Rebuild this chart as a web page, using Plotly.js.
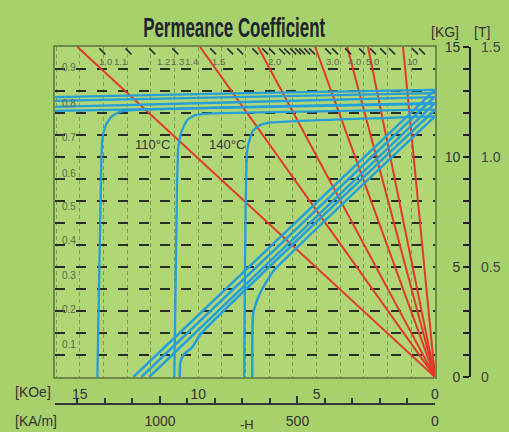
<!DOCTYPE html>
<html>
<head>
<meta charset="utf-8">
<script src="https://cdn.plot.ly/plotly-3.0.1.min.js"></script>
<style>html,body{margin:0;padding:0;background:#a7d16b;}</style>
</head>
<body>
<div id="chart" style="width:509px;height:432px;"></div>
<script>
// ---- permeance (load) lines: H (KOe) where each line meets the top edge B = 15 KG
const permeanceValues = [1.0, 1.5, 2.0, 3.0, 4.0, 5.0, 10];
const permeanceTopH = [15.1, 9.92, 7.47, 5.06, 3.71, 2.83, 1.35];
const permeanceTopB = 15;

// ---- normal (B) demagnetization curves, H in KOe, B in KG
const bCurveH = [
  [0, 12.74],
  [0, 12.40],
  [0, 12.07],
  [0, 9.90, 10.25, 10.63, 10.76, 10.78],
  [0, 6.80, 7.05, 7.30, 7.51, 7.68, 7.72]
];
const bCurveB = [
  [13.05, 0],
  [12.75, 0],
  [12.45, 0],
  [12.15, 1.95, 1.36, 1.00, 0.64, 0],
  [11.85, 4.85, 4.45, 4.00, 3.50, 2.90, 0]
];

// ---- intrinsic (J) demagnetization curves
const jCurveH = [
  [0, 8, 16.05],
  [0, 8, 16.05],
  [0, 8, 16.05],
  [0, 8, 16.05],
  [0, 12.8, 13.3, 13.65, 13.9, 14.05, 14.1, 14.26],
  [0, 9.6, 10.13, 10.45, 10.68, 10.84, 10.9, 11.01],
  [0, 6.9, 7.38, 7.68, 7.8, 7.93, 8.06]
];
const jCurveB = [
  [13.05, 12.9, 12.72],
  [12.9, 12.73, 12.55],
  [12.72, 12.5, 12.28],
  [12.42, 12.26, 12.1],
  [12.45, 12.13, 12.05, 11.85, 11.45, 10.8, 9.5, 0],
  [12.15, 11.97, 11.9, 11.7, 11.23, 10.45, 8.5, 0],
  [11.85, 11.57, 11.45, 11.2, 10.9, 10.3, 0]
];

// ---- temperature labels
const tempLabels = ['110°C', '140°C'];
const tempLabelH = [11.94, 8.78];
const tempLabelB = [10.55, 10.55];

// ---- permeance scale labels (left column and top row)
const leftScaleLabels = ['0.9', '0.8', '0.7', '0.6', '0.5', '0.4', '0.3', '0.2', '0.1'];
const leftScaleB = [14.05, 12.45, 10.9, 9.25, 7.75, 6.2, 4.6, 3.05, 1.5];
const leftScaleH = 15.44;
const topScaleLabels = ['1.0', '1.1', '1.2', '1.3', '1.4', '1.5', '2.0', '3.0', '4.0', '5.0', '10'];
const topScaleH = [13.92, 13.29, 11.48, 10.89, 10.30, 9.16, 6.79, 4.35, 3.42, 2.62, 0.97];
const topScaleB = 14.36;
// small slanted marks along the top edge
const topMarkH = [14.05, 12.95, 11.94, 10.97, 9.37, 8.65, 8.23, 7.59, 7.17, 6.88, 6.46, 6.24, 5.99,
  5.78, 5.61, 5.40, 5.19, 4.51, 4.22, 3.67, 3.08, 2.62, 2.19, 1.81, 0.84, 0.55];
const topMarkB = 14.8;

// ---- axis tick labels
const koeTicks = [0, 5, 10, 15];
const kamTicks = [0, 500, 1000];
const kgTicks = [0, 5, 10, 15];
const teslaTicks = [0, 0.5, 1.0, 1.5];
const teslaText = ['0', '0.5', '1.0', '1.5'];
const gridB = [1, 2, 3, 4, 5, 6, 7, 8, 9, 10, 11, 12, 13, 14];

const RED = '#e23a2a';
const BLUE = '#259fd9';
const traces = [];

permeanceTopH.forEach((h, i) => {
  traces.push({x: [0, h], y: [0, permeanceTopB], mode: 'lines', name: 'P=' + permeanceValues[i],
    line: {color: RED, width: 2}, hoverinfo: 'skip'});
});
bCurveH.forEach((hs, i) => {
  traces.push({x: hs, y: bCurveB[i], mode: 'lines', line: {color: BLUE, width: 2.5, shape: 'spline', smoothing: 0.5}, hoverinfo: 'skip'});
});
jCurveH.forEach((hs, i) => {
  traces.push({x: hs, y: jCurveB[i], mode: 'lines', line: {color: BLUE, width: 2.3, shape: 'spline', smoothing: 0.5}, hoverinfo: 'skip'});
});
traces.push({x: topMarkH, y: topMarkH.map(() => topMarkB), mode: 'markers',
  marker: {symbol: 'line-nw', size: 6, line: {width: 1.5, color: '#2a2a2a'}}, hoverinfo: 'skip', cliponaxis: false});
// dummy traces to activate extra axes
traces.push({x: [null], y: [null], xaxis: 'x2', yaxis: 'y4', hoverinfo: 'skip'});
traces.push({x: [null], y: [null], xaxis: 'x', yaxis: 'y2', hoverinfo: 'skip'});
traces.push({x: [null], y: [null], xaxis: 'x', yaxis: 'y3', hoverinfo: 'skip'});

const annotations = [];
const txt = '#333333';
tempLabels.forEach((t, i) => annotations.push({x: tempLabelH[i], y: tempLabelB[i], text: t, showarrow: false,
  xanchor: 'center', yanchor: 'middle', font: {family: 'Liberation Sans', size: 13, color: '#34362c'}}));
leftScaleLabels.forEach((t, i) => annotations.push({x: leftScaleH, y: leftScaleB[i], text: t, showarrow: false,
  xanchor: 'center', yanchor: 'middle', font: {family: 'Liberation Sans', size: 10, color: '#5e6650'}}));
topScaleLabels.forEach((t, i) => annotations.push({x: topScaleH[i], y: topScaleB, text: t, showarrow: false,
  xanchor: 'center', yanchor: 'middle', font: {family: 'Liberation Sans', size: 9.5, color: '#5e6650'}}));
const pa = (t, x, y, size) => annotations.push({xref: 'paper', yref: 'paper', x: x, y: y, text: t, showarrow: false,
  xanchor: 'center', yanchor: 'middle', font: {family: 'Liberation Sans', size: size, color: txt}});
// paper coords: x = (px-55)/449, y = (403-py)/356
pa('[KOe]', -0.049, 0.0309, 14);
pa('[KA/m]', -0.0423, -0.0506, 14);
pa('-H', 0.4276, -0.059, 13);
pa('[KG]', 0.8686, 1.0421, 14);
pa('[T]', 0.9499, 1.0421, 14);

const gridStyleV = {color: '#7f9d55', width: 1, dash: '4px,3px'};
const layout = {
  width: 509, height: 432,
  margin: {l: 55, r: 5, t: 47, b: 29, pad: 0, autoexpand: false},
  paper_bgcolor: '#a7d16b', plot_bgcolor: '#b0d676',
  showlegend: false,
  title: {text: 'Permeance Coefficient', xref: 'container', yref: 'container', x: 0.46, xanchor: 'center',
    y: 0.9375, yanchor: 'middle', font: {family: 'Liberation Sans, Arial, sans-serif', size: 28, weight: 'bold', color: '#1c2230'}},
  xaxis: {domain: [0, 0.8463], range: [16.05, 0], tickmode: 'array', tickvals: koeTicks, ticks: '', automargin: false,
    showline: true, mirror: true, linecolor: '#6f8b46', linewidth: 2, zeroline: false,
    showgrid: true, gridcolor: gridStyleV.color, gridwidth: gridStyleV.width, griddash: gridStyleV.dash,
    minor: {tick0: 0, dtick: 1, showgrid: true, gridcolor: gridStyleV.color, gridwidth: gridStyleV.width, griddash: gridStyleV.dash, ticks: ''},
    tickfont: {family: 'Liberation Sans', size: 14, color: txt}, ticklabelstandoff: 3},
  yaxis: {domain: [0.073, 1], range: [0, 15], tickmode: 'array', tickvals: gridB, showticklabels: false, ticks: '', automargin: false,
    showline: true, mirror: true, linecolor: '#6f8b46', linewidth: 2, zeroline: false,
    showgrid: true, gridcolor: '#2b2c22', gridwidth: 2.5, griddash: '10px,11px'},
  xaxis2: {domain: [0, 0.8463], anchor: 'y4', side: 'bottom', range: [1381.8, 0], automargin: false,
    tickmode: 'array', tickvals: kamTicks, ticks: 'inside', ticklen: 7, tickwidth: 2, tickcolor: '#333',
    showline: true, linecolor: '#333', linewidth: 2, showgrid: false, zeroline: false,
    minor: {tick0: 0, dtick: 100, ticks: 'inside', ticklen: 5, tickwidth: 2, tickcolor: '#333', showgrid: false},
    tickfont: {family: 'Liberation Sans', size: 14, color: txt}, ticklabelstandoff: 4},
  yaxis4: {domain: [0, 0.003], range: [0, 1], visible: false, automargin: false},
  yaxis2: {overlaying: 'y', anchor: 'free', position: 0.9243, side: 'left', range: [0, 15], automargin: false,
    tickmode: 'array', tickvals: kgTicks, ticks: 'outside', ticklen: 6, tickwidth: 2, tickcolor: '#222',
    showline: true, linecolor: '#222', linewidth: 2, showgrid: false, zeroline: false,
    minor: {tick0: 0, dtick: 1, ticks: 'outside', ticklen: 6, tickwidth: 2, tickcolor: '#222', showgrid: false},
    tickfont: {family: 'Liberation Sans', size: 14, color: txt}},
  yaxis3: {overlaying: 'y', anchor: 'free', position: 0.9243, side: 'right', range: [0, 1.5], automargin: false,
    tickmode: 'array', tickvals: teslaTicks, ticktext: teslaText, ticks: '', showline: false, showgrid: false,
    zeroline: false, tickfont: {family: 'Liberation Sans', size: 14, color: '#444'}, ticklabelstandoff: 10},
  annotations: annotations
};

Plotly.newPlot('chart', traces, layout, {staticPlot: true, displayModeBar: false}).then(() => {
  // condense the title horizontally to mimic the narrow heavy typeface
  const t = document.querySelector('.gtitle');
  if (t) {
    const bb = t.getBBox();
    const target = 182;
    const s = Math.min(1, target / bb.width);
    const cx = bb.x + bb.width / 2;
    t.setAttribute('transform', 'translate(' + cx + ',0) scale(' + s + ',1) translate(' + (-cx) + ',0)');
  }
});
</script>
</body>
</html>
